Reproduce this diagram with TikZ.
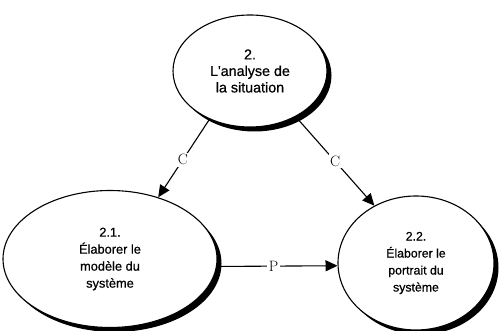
\documentclass[tikz,border=0pt]{standalone}
\usepackage{fontspec}
\setmainfont{Latin Modern Roman}
\newfontfamily\helv[FakeBold=0.6]{Liberation Sans}
\usetikzlibrary{shapes.geometric,arrows.meta,shadows}
\tikzset{
  proc/.style={ellipse, draw=black, line width=1.1pt, fill=white, inner sep=0pt,
    align=center, drop shadow={shadow xshift=4.5pt, shadow yshift=-4.5pt, fill=black, opacity=1}},
  flow/.style={line width=1.1pt, -{Triangle[length=12pt,width=11pt]}},
  lbl/.style={fill=white, inner sep=1.5pt, font=\fontsize{15}{15}\selectfont}
}
\begin{document}
\begin{tikzpicture}[x=1pt,y=1pt]
\useasboundingbox (0,0) rectangle (499,331);
\node[proc, minimum width=154pt, minimum height=112pt,
  font=\helv\fontsize{14.3}{16.5}\selectfont] (top) at (250,260)
  {2.\\L'analyse de\\la situation};
\node[proc, minimum width=214pt, minimum height=137pt,
  font=\helv\fontsize{12.8}{17}\selectfont] (left) at (110,72)
  {2.1.\\Élaborer le\\modèle du\\système};
\node[proc, minimum width=156pt, minimum height=134pt,
  font=\helv\fontsize{12.3}{17}\selectfont] (right) at (416,68)
  {2.2.\\Élaborer le\\portrait du\\système};
\draw[flow] (top.230) -- node[lbl, pos=0.52] {C} (left.52);
\draw[flow] (top.315) -- node[lbl, pos=0.5] {C} (right.126);
\draw[flow] (left.-4) -- node[lbl, pos=0.47] {P} (right.182);
\end{tikzpicture}
\end{document}
